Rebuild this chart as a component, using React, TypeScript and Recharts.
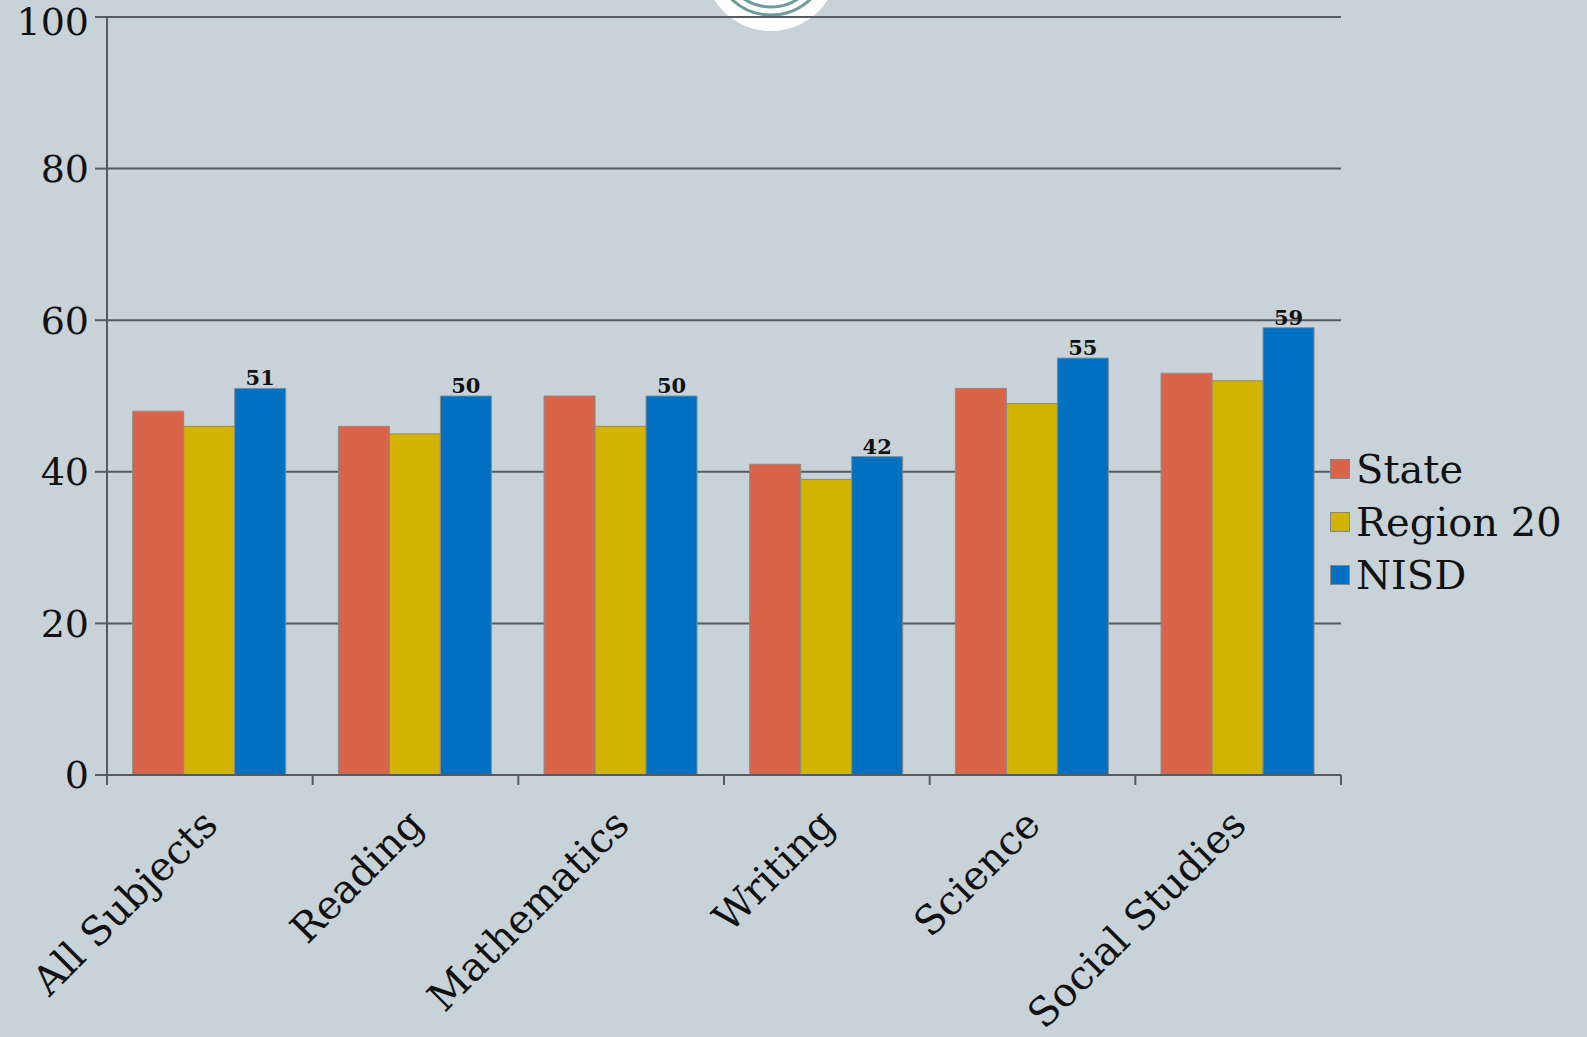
import { BarChart, Bar, XAxis, YAxis, CartesianGrid, Legend, LabelList } from 'recharts'

const subjects = ['All Subjects', 'Reading', 'Mathematics', 'Writing', 'Science', 'Social Studies']
const stateValues = [48, 46, 50, 41, 51, 53]
const regionValues = [46, 45, 46, 39, 49, 52]
const nisdValues = [51, 50, 50, 42, 55, 59]
const seriesNames = ['State', 'Region 20', 'NISD']
const yTicks = [0, 20, 40, 60, 80, 100]

const data = subjects.map((name, i) => ({
  name,
  State: stateValues[i],
  'Region 20': regionValues[i],
  NISD: nisdValues[i],
}))

const BG = '#c8d3d9'
const FONT = '"DejaVu Serif", "Liberation Serif", serif'
const GRID = '#555b5e'

// label plus the small tick marks that sit on the category boundaries
const CategoryTick = ({ x, y, payload, index, visibleTicksCount }: any) => {
  const half = payload?.offset || 0
  const top = y - 8
  return (
    <g>
      {half > 0 && (
        <line x1={x - half} x2={x - half} y1={top} y2={top + 10} stroke={GRID} strokeWidth={2} />
      )}
      {half > 0 && index === visibleTicksCount - 1 && (
        <line x1={x + half} x2={x + half} y1={top} y2={top + 10} stroke={GRID} strokeWidth={2} />
      )}
      <text
        x={x + 10}
        y={y + 44}
        transform={`rotate(-45, ${x + 10}, ${y + 44})`}
        textAnchor="end"
        fontFamily={FONT}
        fontSize={40}
        fill="#111"
      >
        {payload.value}
      </text>
    </g>
  )
}

const LegendContent = ({ payload }: any) => {
  const items = [...(payload || [])].sort(
    (a: any, b: any) => seriesNames.indexOf(a.value) - seriesNames.indexOf(b.value)
  )
  return (
    <div style={{ fontFamily: FONT, fontSize: 40, color: '#111', textAlign: 'left' }}>
      {items.map((p: any) => (
        <div key={p.value} style={{ display: 'flex', alignItems: 'center', height: 53 }}>
          <span
            style={{
              width: 18,
              height: 18,
              background: p.color,
              border: '1px solid #888',
              marginRight: 6,
              flex: 'none',
            }}
          />
          <span>{p.value}</span>
        </div>
      ))}
    </div>
  )
}

export default function App() {
  return (
    <div
      style={{
        position: 'absolute',
        left: 0,
        top: 0,
        width: 1587,
        height: 1037,
        background: BG,
        overflow: 'hidden',
      }}
    >
      {/* logo circle peeking in from the top edge */}
      <svg width={1587} height={1037} style={{ position: 'absolute', left: 0, top: 0 }}>
        <circle cx={771} cy={-36} r={67} fill="#fff" />
        <circle cx={771} cy={-42} r={57} fill="none" stroke="#6e9c9a" strokeWidth={3} />
        <circle cx={771} cy={-42} r={49} fill="none" stroke="#6e9c9a" strokeWidth={3} />
      </svg>
      <BarChart
        width={1587}
        height={1037}
        data={data}
        margin={{ top: 17, right: 246, bottom: 0, left: 0 }}
        barGap={0}
        barCategoryGap="12.5%"
        style={{ position: 'absolute', left: 0, top: 0 }}
      >
        <CartesianGrid vertical={false} stroke={GRID} strokeWidth={2} strokeOpacity={1} />
        <XAxis
          dataKey="name"
          interval={0}
          height={262}
          tick={<CategoryTick />}
          tickLine={false}
          axisLine={{ stroke: GRID, strokeWidth: 2 }}
        />
        <YAxis
          width={107}
          domain={[0, 100]}
          ticks={yTicks}
          tickSize={12}
          tickMargin={6}
          tick={{ fontFamily: FONT, fontSize: 38, fill: '#111' }}
          axisLine={{ stroke: GRID, strokeWidth: 2 }}
          tickLine={{ stroke: GRID, strokeWidth: 2 }}
        />
        <Legend
          layout="horizontal"
          verticalAlign="middle"
          align="center"
          content={<LegendContent />}
          wrapperStyle={{ position: 'absolute', left: 1330, top: 442, width: 257 }}
        />
        <Bar dataKey="State" fill="#d9644a" stroke="#8a8a8a" strokeWidth={1} isAnimationActive={false} />
        <Bar dataKey="Region 20" fill="#d1b300" stroke="#8a8a8a" strokeWidth={1} isAnimationActive={false} />
        <Bar dataKey="NISD" fill="#0071c1" stroke="#8a8a8a" strokeWidth={1} isAnimationActive={false}>
          <LabelList
            dataKey="NISD"
            position="top"
            offset={3}
            fontFamily={FONT}
            fontSize={21}
            fontWeight="bold"
            fill="#111"
          />
        </Bar>
      </BarChart>
    </div>
  )
}
